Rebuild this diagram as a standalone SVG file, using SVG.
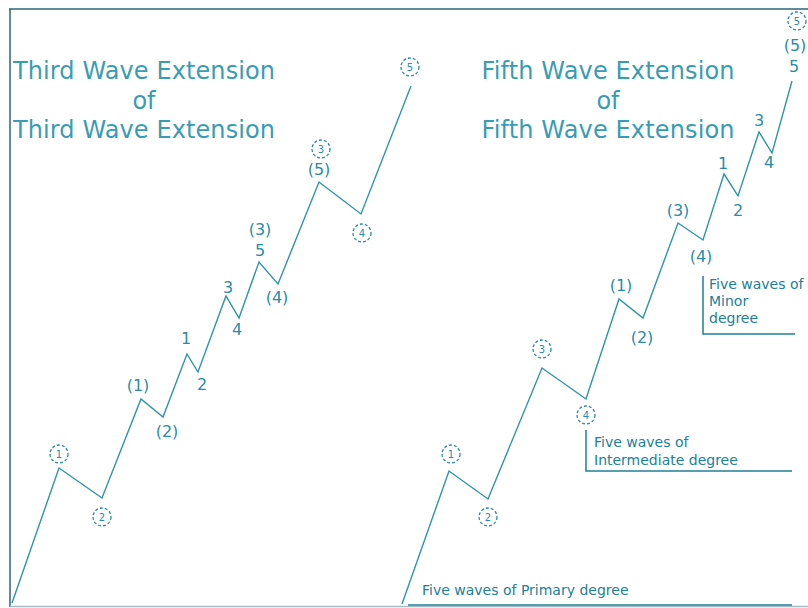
<svg xmlns="http://www.w3.org/2000/svg" width="808" height="608" viewBox="0 0 808 608">
<style>
.title{font-family:"DejaVu Sans","Liberation Sans",sans-serif;font-size:24px;fill:#3a9cb4;text-anchor:middle}
.lbl{font-family:"DejaVu Sans","Liberation Sans",sans-serif;font-size:16px;fill:#2a8ca4;text-anchor:middle}
.cd{font-family:"DejaVu Sans","Liberation Sans",sans-serif;font-size:10px;fill:#2a8ca4;text-anchor:middle}
.circ{fill:none;stroke:#2a8ca4;stroke-width:1.3;stroke-dasharray:3 2}
.note{font-family:"DejaVu Sans","Liberation Sans",sans-serif;font-size:14px;fill:#217f98}
.wave{fill:none;stroke:#2e94ac;stroke-width:1.4;stroke-linejoin:miter}
.rule{fill:none;stroke:#217f98;stroke-width:1.5}
</style>
<rect width="808" height="608" fill="#ffffff"/>
<g id="frame">
<line x1="9" y1="9" x2="808" y2="9" stroke="#2b6677" stroke-width="1.5"/>
<line x1="10" y1="9" x2="10" y2="607" stroke="#2b6677" stroke-width="1.5"/>
<line x1="10" y1="606.5" x2="808" y2="606.5" stroke="#a7bcc2" stroke-width="1.5"/>
</g>
<g id="title-left">
<text class="title" x="144" y="79" textLength="262">Third Wave Extension</text>
<text class="title" x="144" y="109">of</text>
<text class="title" x="144" y="138" textLength="262">Third Wave Extension</text>
</g>
<g id="title-right">
<text class="title" x="608" y="79" textLength="253">Fifth Wave Extension</text>
<text class="title" x="608" y="109">of</text>
<text class="title" x="608" y="138" textLength="253">Fifth Wave Extension</text>
</g>
<g id="connectors">
<polyline id="wave-left" class="wave" points="12,603 59,468 102,498 141,399 163,417 187,354 198,372 226,296 239,318 259,262 278,284 319,182 361,214 411,86"/>
<polyline id="wave-right" class="wave" points="402,604 449,471 488,499 542,368 586,399 619,299 643,318 678,223 703,240 724,174 738,196 759,132 772,153 792,81"/>
</g>
<g id="left-labels">
<g id="L-c1"><circle class="circ" cx="59" cy="454" r="9"/><text class="cd" x="59" y="458">1</text></g>
<g id="L-c2"><circle class="circ" cx="102" cy="517" r="9"/><text class="cd" x="102" y="521">2</text></g>
<g id="L-p1"><text class="lbl" x="138" y="391">(1)</text></g>
<g id="L-p2"><text class="lbl" x="167" y="437">(2)</text></g>
<g id="L-n1"><text class="lbl" x="186" y="344">1</text></g>
<g id="L-n2"><text class="lbl" x="202" y="390">2</text></g>
<g id="L-n3"><text class="lbl" x="228" y="293">3</text></g>
<g id="L-n4"><text class="lbl" x="237" y="335">4</text></g>
<g id="L-p3"><text class="lbl" x="260" y="235">(3)</text><text class="lbl" x="260" y="256">5</text></g>
<g id="L-p4"><text class="lbl" x="277" y="303">(4)</text></g>
<g id="L-p5"><circle class="circ" cx="321" cy="149" r="9"/><text class="cd" x="321" y="153">3</text><text class="lbl" x="319" y="175">(5)</text></g>
<g id="L-c4"><circle class="circ" cx="362" cy="233" r="9"/><text class="cd" x="362" y="237">4</text></g>
<g id="L-c5"><circle class="circ" cx="410" cy="67" r="9"/><text class="cd" x="410" y="71">5</text></g>
</g>
<g id="right-labels">
<g id="R-c1"><circle class="circ" cx="451" cy="454" r="9"/><text class="cd" x="451" y="458">1</text></g>
<g id="R-c2"><circle class="circ" cx="488" cy="517" r="9"/><text class="cd" x="488" y="521">2</text></g>
<g id="R-c3"><circle class="circ" cx="542" cy="349" r="9"/><text class="cd" x="542" y="353">3</text></g>
<g id="R-c4"><circle class="circ" cx="586" cy="415" r="9"/><text class="cd" x="586" y="419">4</text></g>
<g id="R-p1"><text class="lbl" x="621" y="291">(1)</text></g>
<g id="R-p2"><text class="lbl" x="642" y="343">(2)</text></g>
<g id="R-p3"><text class="lbl" x="678" y="216">(3)</text></g>
<g id="R-p4"><text class="lbl" x="701" y="262">(4)</text></g>
<g id="R-n1"><text class="lbl" x="723" y="169">1</text></g>
<g id="R-n2"><text class="lbl" x="738" y="216">2</text></g>
<g id="R-n3"><text class="lbl" x="759" y="126">3</text></g>
<g id="R-n4"><text class="lbl" x="769" y="168">4</text></g>
<g id="R-n5"><circle class="circ" cx="797" cy="21" r="9"/><text class="cd" x="797" y="25">5</text><text class="lbl" x="795" y="51">(5)</text><text class="lbl" x="794" y="72">5</text></g>
</g>
<g id="note-primary">
<text class="note" x="422" y="595">Five waves of Primary degree</text>
<line class="rule" x1="408" y1="605" x2="792" y2="605"/>
</g>
<g id="note-intermediate">
<text class="note" x="594" y="447">Five waves of</text>
<text class="note" x="594" y="465">Intermediate degree</text>
<polyline class="rule" points="586,430 586,471 792,471"/>
</g>
<g id="note-minor">
<text class="note" x="709" y="289">Five waves of</text>
<text class="note" x="709" y="306">Minor</text>
<text class="note" x="709" y="323">degree</text>
<polyline class="rule" points="703,276 703,334 795,334"/>
</g>
</svg>
